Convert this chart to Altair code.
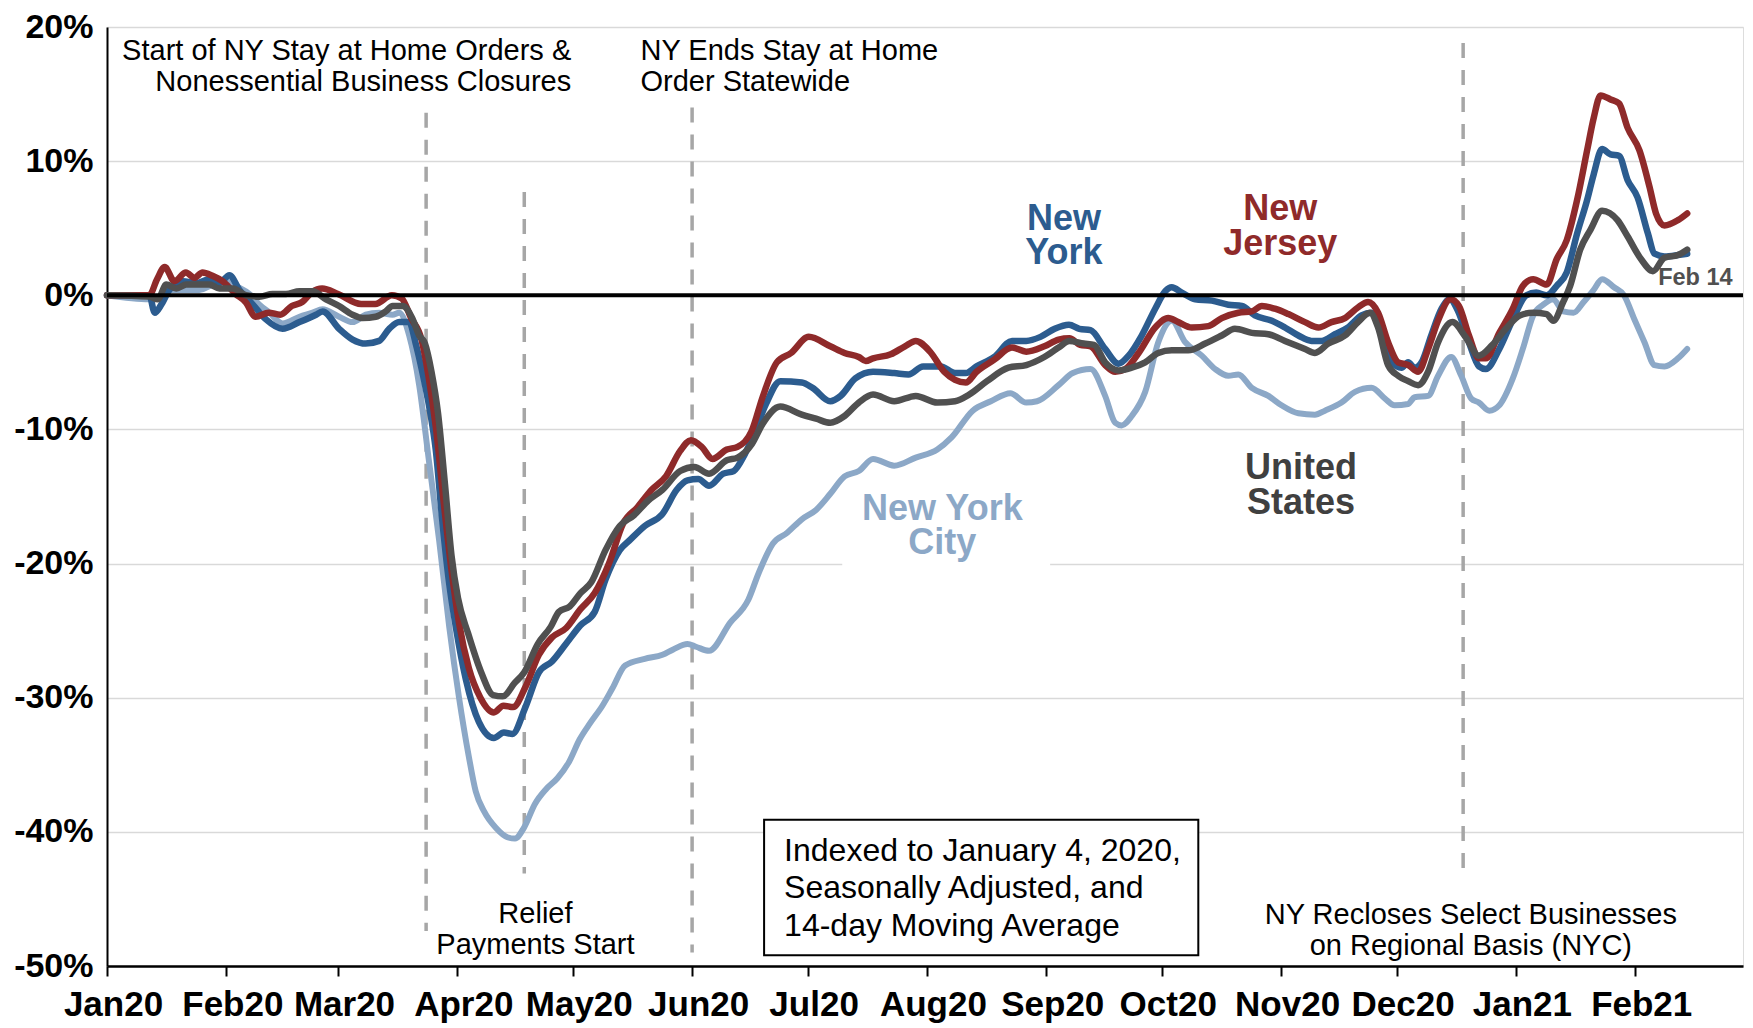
import altair as alt
import pandas as pd

START = pd.Timestamp("2020-01-01")

# ---- series, (day offset from 2020-01-01, % change) ----
nj_points = [(0,0),(11,0),(13,1.2),(15,2.1),(17.5,1.05),(20.5,1.7),(22.7,1.3),(24.8,1.7),(27.4,1.45),(30,1.05),
 (33.4,0.1),(36,-0.5),(38.6,-1.6),(42,-1.3),(45,-1.45),(48,-0.8),(50.7,-0.5),(53.3,0.25),(55.9,0.5),(60,0.1),
 (66,-0.65),(69.7,-0.65),(74,0),(76.6,-0.25),(79,-1.7),(81.7,-3.3),(83.5,-6),(85.5,-10),(87.5,-15.5),(89.5,-20.5),
 (91.5,-24.5),(94,-27.8),(97,-30),(100.5,-31.1),(103,-30.6),(105.5,-30.7),(108.7,-29.2),(112.2,-26.8),(115.6,-25.5),
 (119.3,-24.8),(123,-23.4),(126.7,-22.2),(130.4,-20),(134.1,-17),(137.8,-15.8),(141.5,-14.5),(145.2,-13.5),
 (148.9,-11.6),(151.7,-10.8),(154.5,-11.3),(157.3,-12.2),(161,-11.5),(163.8,-11.3),(167.5,-10.1),(170.3,-7.6),
 (174,-5),(177.7,-4.3),(182.3,-3.1),(187.9,-3.8),(191.6,-4.3),(195.3,-4.6),(197.1,-4.9),(199,-4.7),(203.6,-4.4),
 (207.3,-3.8),(210.1,-3.4),(213.8,-4.2),(217.5,-5.7),(220.3,-6.3),(223.1,-6.5),(225.9,-5.7),(230.5,-4.8),
 (235.1,-3.9),(238.8,-4.2),(243.5,-3.8),(247.2,-3.3),(250,-3.2),(252.8,-3.7),(255.5,-3.8),(259.3,-5.2),
 (261.9,-5.7),(264.5,-5.5),(268,-4.3),(272.3,-2.4),(275.7,-1.7),(278.3,-2),(281.8,-2.4),(286.1,-2.3),
 (289.6,-1.7),(293.9,-1.3),(297.4,-1.2),(300,-0.8),(303.4,-1),(306.9,-1.4),(311.2,-2),(314.7,-2.4),(318.1,-2),
 (321.6,-1.7),(325,-0.9),(327.6,-0.5),(330.2,-1.3),(332.8,-3.5),(335.4,-5),(338,-5.2),(340.6,-5.7),(343.2,-4),
 (345.9,-1.8),(349,-0.3),(351.2,-0.8),(353.8,-3),(356.4,-4.7),(358.2,-4.7),(361.7,-2.8),(365.2,-1),(367.8,0.7),
 (370.5,1.2),(374,0.8),(376.6,2.7),(379.2,4.1),(381.9,7.1),(384.5,10.8),(386.2,13.2),(388,14.9),(390.6,14.6),
 (392.8,14.3),(395,12.5),(398.1,10.8),(400.7,8.1),(402.4,6.1),(404.6,5.2),(408.1,5.6),(410.5,6.1)]

ny_points = [(0,0),(11,0),(12.4,-1.3),(14.1,-0.7),(16.2,0.4),(19.7,1.05),(23.2,0.9),(26.6,1.2),(29.2,0.9),(31.8,1.5),
 (34.4,0.4),(37.9,-0.7),(41.3,-1.8),(45.6,-2.5),(50,-2),(54.3,-1.45),(56,-1.2),(60.3,-2.5),(63.8,-3.3),(67.2,-3.6),
 (70.7,-3.4),(73.3,-2.5),(75.9,-2),(78.5,-2),(80.2,-3.6),(81.9,-5.7),(83.7,-8.3),(85.4,-11.5),(87.1,-16.8),
 (88.9,-21.5),(90.6,-24.7),(93.2,-28.6),(96.6,-31.8),(100.5,-33),(103.1,-32.6),(105.3,-32.7),(108.7,-30.7),
 (112.2,-28.1),(115.6,-27.3),(119.2,-26),(123,-24.6),(126.7,-23.6),(129.5,-21.2),(133.2,-19),(136,-18.2),
 (139.7,-17.2),(144.3,-16.3),(148,-14.5),(150.8,-13.8),(153.6,-13.7),(156.4,-14.2),(160.1,-13.3),(162.8,-13.1),
 (165.6,-11.9),(168.4,-10.1),(171.2,-8.1),(174.9,-6.4),(180.5,-6.5),(183.3,-6.9),(187.9,-7.9),(190.6,-7.5),
 (194.4,-6.2),(199,-5.7),(204.5,-5.8),(208.2,-5.9),(212,-5.3),(216.6,-5.3),(220.3,-5.8),(223.1,-5.8),(225.9,-5.3),
 (230.5,-4.6),(235.1,-3.4),(238.8,-3.4),(242.5,-3.1),(246.2,-2.5),(249.9,-2.2),(252.6,-2.5),(255.5,-2.6),
 (259.3,-4),(262.8,-5.1),(265.4,-4.5),(268.8,-3),(272.3,-1),(274.9,0.3),(276.6,0.6),(279.2,0.2),(282.7,-0.3),
 (287,-0.4),(291.3,-0.7),(294.8,-0.8),(298.2,-1.5),(302.6,-1.9),(306,-2.4),(309.5,-3),(312.9,-3.4),(315.5,-3.4),
 (319,-2.9),(322.4,-2.4),(325.9,-1.5),(328.5,-1.3),(331.1,-3),(333.7,-5),(336.3,-5.4),(338,-5),(339.7,-5.4),
 (341.5,-5),(344,-3),(346.7,-1),(348.8,-0.3),(351,-1.2),(353.8,-3.5),(356.4,-5.3),(358.2,-5.5),(361.7,-4),
 (365.2,-1.8),(368.7,0),(371.3,0.2),(374,0),(376.6,0.7),(379.2,1.7),(381.9,4.6),(384.5,7.1),(386.2,9),
 (388.4,10.9),(390.6,10.5),(392.8,10.4),(395,8.6),(397.6,7.3),(400.3,4.6),(402,3.1),(404.6,2.9),(408.1,3),
 (410.5,3.1)]

us_points = [(0,0),(11,-0.1),(13.2,-0.3),(15.4,0.8),(18,0.5),(20.6,0.8),(24,0.8),(26.6,0.8),(29.2,0.5),(32.7,0.5),
 (36.1,0),(39.6,-0.1),(43,0.1),(46.5,0.1),(50,0.3),(53.4,0.3),(56.9,-0.3),(60.3,-0.8),(63.8,-1.45),(66.4,-1.7),
 (69.8,-1.6),(72.4,-1.2),(74.2,-0.8),(76.8,-0.8),(79.3,-1.7),(81.1,-3),(82.6,-3.6),(84.3,-5.7),(86,-8.8),
 (87.8,-14.1),(89.5,-19.4),(91.2,-22.6),(93.8,-25.2),(97.2,-28.1),(100.3,-29.8),(102.8,-29.9),(105.9,-28.9),
 (108.4,-28.1),(111.9,-26),(115.3,-24.7),(117.4,-23.6),(120.2,-23.2),(123,-22.2),(125.8,-21.4),(129.5,-19),
 (133.2,-17.2),(136.9,-16.4),(140.6,-15.3),(144.3,-14.5),(148.9,-13.1),(152.6,-12.8),(156.4,-13.3),(161,-12.3),
 (163.8,-12.1),(167.5,-11.1),(170.3,-9.6),(174.9,-8.3),(180.5,-8.9),(184.2,-9.2),(187.9,-9.5),(191.6,-9),
 (195.3,-8),(199,-7.4),(204.5,-7.9),(210.1,-7.5),(215.7,-8),(220.3,-7.9),(224,-7.4),(228.6,-6.4),(234.2,-5.4),
 (238.8,-5.2),(243.5,-4.6),(247.2,-3.9),(250,-3.4),(253.7,-3.6),(256.4,-3.7),(259.3,-5),(262.8,-5.6),
 (266.2,-5.4),(269.7,-5),(273.1,-4.3),(276.6,-4.1),(280.9,-4.1),(285.3,-3.6),(289.6,-3),(293,-2.5),(297.4,-2.8),
 (301.7,-2.9),(306,-3.4),(311.2,-4),(313.8,-4.3),(317.3,-3.6),(321.6,-3),(325,-2),(328.1,-1.3),(330.2,-2.4),
 (332.8,-5.2),(335.4,-6),(338,-6.4),(340.6,-6.7),(343.2,-5.7),(345.8,-3.5),(349.5,-2),(352.9,-3.1),(356.4,-4.5),
 (359.9,-3.7),(363.4,-2.5),(367,-1.5),(370.5,-1.3),(374,-1.4),(375.7,-1.9),(378.3,-0.5),(380.1,0.7),(382.7,3.4),
 (385.4,4.9),(388.4,6.3),(392.4,5.6),(395,4.4),(398.5,2.7),(401.6,1.8),(404.6,2.8),(408.1,3),(410.5,3.4)]

nyc_points = [(0,0),(11,-0.3),(13.7,-0.1),(16.2,0.4),(20.6,0.4),(24,0.4),(27.5,0.8),(30.9,1.2),(33.5,0.7),(37,0.1),
 (39.6,-0.7),(42.2,-1.3),(45.6,-2.1),(50,-1.6),(53.4,-1.3),(56,-1.05),(60.3,-1.6),(63.8,-2),(67.2,-1.45),
 (70.7,-1.3),(74.2,-1.45),(75.9,-1.3),(78.5,-3),(81.1,-6.7),(83.7,-12.5),(86.3,-18.3),(88.9,-24.7),(91.4,-29.9),
 (94,-34.4),(95.8,-37),(98,-38.5),(101,-39.7),(104,-40.4),(106,-40.5),(108.3,-39.7),(111.2,-37.9),(114.1,-36.8),
 (117,-36),(120,-34.8),(122.8,-33.1),(125.5,-31.9),(128.7,-30.6),(131.3,-29.3),(134.6,-27.6),(139.7,-27.1),
 (144.3,-26.8),(147.1,-26.4),(150.8,-26),(153,-26.2),(156.4,-26.5),(161.9,-24.4),(166.6,-22.7),(169.3,-20.7),
 (173,-18.5),(176.7,-17.7),(180.5,-16.7),(184.2,-16),(187.9,-14.8),(191.6,-13.5),(195.3,-13.1),(199,-12.2),
 (204.5,-12.7),(210.1,-12.1),(215.7,-11.5),(219.4,-10.6),(224.9,-8.6),(229.6,-7.9),(234.7,-7.3),(238.8,-8),
 (241.6,-7.9),(247.2,-6.7),(250.9,-5.8),(255.5,-5.5),(259.3,-7.5),(261.9,-9.5),(263.6,-9.7),(266.2,-9),
 (269.7,-7.2),(273.1,-3.5),(276.6,-1.9),(280.1,-3.5),(284.4,-4.5),(287.9,-5.5),(291.3,-6),(293.9,-5.9),
 (297.4,-6.9),(301.7,-7.5),(305.1,-8.2),(309.5,-8.8),(313.8,-8.9),(316.4,-8.6),(320.7,-8),(324.2,-7.2),
 (328.5,-6.9),(332,-7.7),(334.5,-8.2),(338,-8.1),(339.7,-7.6),(343.2,-7.5),(345.8,-6),(349.2,-4.6),(351.8,-6),
 (354.4,-7.7),(356.4,-8),(359.1,-8.6),(361.7,-8.2),(365.2,-6.2),(367.8,-4),(370.5,-1.5),(373.1,-0.7),
 (375.7,-0.3),(378.3,-1.2),(381,-1.3),(383.6,-0.5),(386.2,0.4),(388.4,1.2),(391.5,0.6),(394.1,0),(396.8,-1.8),
 (399.4,-3.5),(402,-5.2),(404.6,-5.3),(408.1,-4.7),(410.5,-4)]

series_names = ["New York City", "New York", "New Jersey", "United States"]
series_colors = ["#8CA8C7", "#2C5C8F", "#8F2A2A", "#505050"]
series_widths = [6, 6.5, 6.5, 6.5]
series_points = [nyc_points, ny_points, nj_points, us_points]

# ---- axis ----
axis_months = ["2020-01-01", "2020-02-01", "2020-03-01", "2020-04-01", "2020-05-01", "2020-06-01",
               "2020-07-01", "2020-08-01", "2020-09-01", "2020-10-01", "2020-11-01", "2020-12-01",
               "2021-01-01", "2021-02-01"]
x_domain = ["2020-01-01", "2021-03-01"]
y_ticks = [-50, -40, -30, -20, -10, 0, 10, 20]

# ---- events (dashed lines): day, top %, bottom % ----
event_days = [82.9, 108.4, 152.0, 352.3]
event_top = [13.6, 7.7, 14.0, 18.8]
event_bottom = [-47.4, -43.1, -49.0, -43.2]

# ---- annotation texts (multi-line; position = first line) ----
note_right = [("Start of NY Stay at Home Orders &\nNonessential Business Closures", 120.6, 18.2)]
note_left = [("NY Ends Stay at Home\nOrder Statewide", 138.6, 18.2)]
note_center = [("Relief\nPayments Start", 111.3, -46.1),
               ("NY Recloses Select Businesses\non Regional Basis (NYC)", 354.3, -46.2)]
box_lines = [("Indexed to January 4, 2020,\nSeasonally Adjusted, and\n14-day Moving Average", 175.9, -41.4)]
box_extent = [(170.7, -39.1), (283.5, -49.2)]
series_labels = [("New\nYork", 248.6, 5.7, "#2C5C8F"),
                 ("New\nJersey", 304.8, 6.4, "#8F2A2A"),
                 ("United\nStates", 310.2, -12.9, "#404040"),
                 ("New York\nCity", 217.0, -15.9, "#8CA8C7")]
nyc_mask = [(191, -14.6), (245, -20.4)]
end_label = ("Feb 14", 422.3, 1.26)


def day_to_date(d):
    return START + pd.Timedelta(days=float(d))


FONT = "Liberation Sans"
xscale = alt.Scale(domain=x_domain)
yscale = alt.Scale(domain=[-50, 20], nice=False, zero=False)

xaxis = alt.Axis(values=[alt.DateTime(year=int(m[:4]), month=int(m[5:7]), date=1) for m in axis_months],
                 format="%b%y", formatType="time", labelFont=FONT, labelFontSize=35,
                 labelFontWeight="bold", labelColor="black", labelPadding=11, labelOffset=6,
                 labelFlush=False, labelOverlap=False, labelBound=False,
                 tickSize=10, tickColor="black", tickWidth=2, domainColor="black", domainWidth=2.5,
                 grid=False, title=None)
yaxis = alt.Axis(values=y_ticks, labelExpr="datum.value + '%'", labelFont=FONT, labelFontSize=34,
                 labelFontWeight="bold", labelColor="black", labelPadding=14, labelFlush=False,
                 labelOverlap=False, ticks=False, domainColor="black", domainWidth=2,
                 grid=True, gridColor="#D9D9D9", gridWidth=1.5, title=None)


def X(field="date"):
    return alt.X(f"{field}:T", scale=xscale, axis=xaxis)


def Y(field="value"):
    return alt.Y(f"{field}:Q", scale=yscale, axis=yaxis)


layers = []

# white mask behind "New York City" label
mask_df = pd.DataFrame({"date": [day_to_date(nyc_mask[0][0])], "date2": [day_to_date(nyc_mask[1][0])],
                        "value": [nyc_mask[0][1]], "value2": [nyc_mask[1][1]]})
layers.append(alt.Chart(mask_df).mark_rect(color="white").encode(
    x=X(), x2="date2:T", y=Y(), y2="value2:Q"))

# box
box_df = pd.DataFrame({"date": [day_to_date(box_extent[0][0])], "date2": [day_to_date(box_extent[1][0])],
                       "value": [box_extent[0][1]], "value2": [box_extent[1][1]]})
layers.append(alt.Chart(box_df).mark_rect(fill="white", stroke="black", strokeWidth=2).encode(
    x=X(), x2="date2:T", y=Y(), y2="value2:Q"))

# dashed event lines
ev_df = pd.DataFrame({"date": [day_to_date(d) for d in event_days], "value": event_top,
                      "value2": event_bottom})
layers.append(alt.Chart(ev_df).mark_rule(color="#A6A6A6", strokeWidth=3.5, strokeDash=[15, 12]).encode(
    x=X(), y=Y(), y2="value2:Q"))

# series lines
for name, color, sw, pts in zip(series_names, series_colors, series_widths, series_points):
    df = pd.DataFrame({"date": [day_to_date(p[0]) for p in pts], "value": [p[1] for p in pts]})
    layers.append(alt.Chart(df).mark_line(color=color, strokeWidth=sw, strokeJoin="round",
                                          strokeCap="round", interpolate="monotone").encode(x=X(), y=Y()))

# zero line
layers.append(alt.Chart(pd.DataFrame({"value": [0]})).mark_rule(color="black", strokeWidth=4).encode(y=Y()))


def text_df(items):
    return pd.DataFrame({"text": [t[0] for t in items], "date": [day_to_date(t[1]) for t in items],
                         "value": [t[2] for t in items]})


layers.append(alt.Chart(text_df(note_right)).mark_text(font=FONT, fontSize=29, align="right",
                                                       baseline="middle", color="black",
                                                       lineBreak="\n", lineHeight=31).encode(
    x=X(), y=Y(), text="text:N"))
layers.append(alt.Chart(text_df(note_left)).mark_text(font=FONT, fontSize=29, align="left",
                                                      baseline="middle", color="black",
                                                      lineBreak="\n", lineHeight=31).encode(
    x=X(), y=Y(), text="text:N"))
layers.append(alt.Chart(text_df(note_center)).mark_text(font=FONT, fontSize=29, align="center",
                                                        baseline="middle", color="black",
                                                        lineBreak="\n", lineHeight=31).encode(
    x=X(), y=Y(), text="text:N"))
layers.append(alt.Chart(text_df(box_lines)).mark_text(font=FONT, fontSize=32, align="left",
                                                      baseline="middle", color="black",
                                                      lineBreak="\n", lineHeight=37.5).encode(
    x=X(), y=Y(), text="text:N"))

sl_df = text_df(series_labels)
sl_df["color"] = [t[3] for t in series_labels]
layers.append(alt.Chart(sl_df).mark_text(font=FONT, fontSize=36, fontWeight="bold", align="center",
                                         baseline="middle", lineBreak="\n", lineHeight=34.5).encode(
    x=X(), y=Y(), text="text:N", color=alt.Color("color:N", scale=None)))

layers.append(alt.Chart(text_df([end_label])).mark_text(font=FONT, fontSize=23.5, fontWeight="bold",
                                                        align="right", baseline="middle",
                                                        color="#505050").encode(
    x=X(), y=Y(), text="text:N"))

chart = alt.layer(*layers).properties(
    width=1636, height=939,
    padding={"left": 99, "top": 19, "right": 1, "bottom": 60},
    autosize=alt.AutoSizeParams(type="none"),
).configure_view(stroke="black", strokeWidth=1.5).configure(font=FONT)

chart.save("out.html", embed_options={"renderer": "svg", "actions": False})
